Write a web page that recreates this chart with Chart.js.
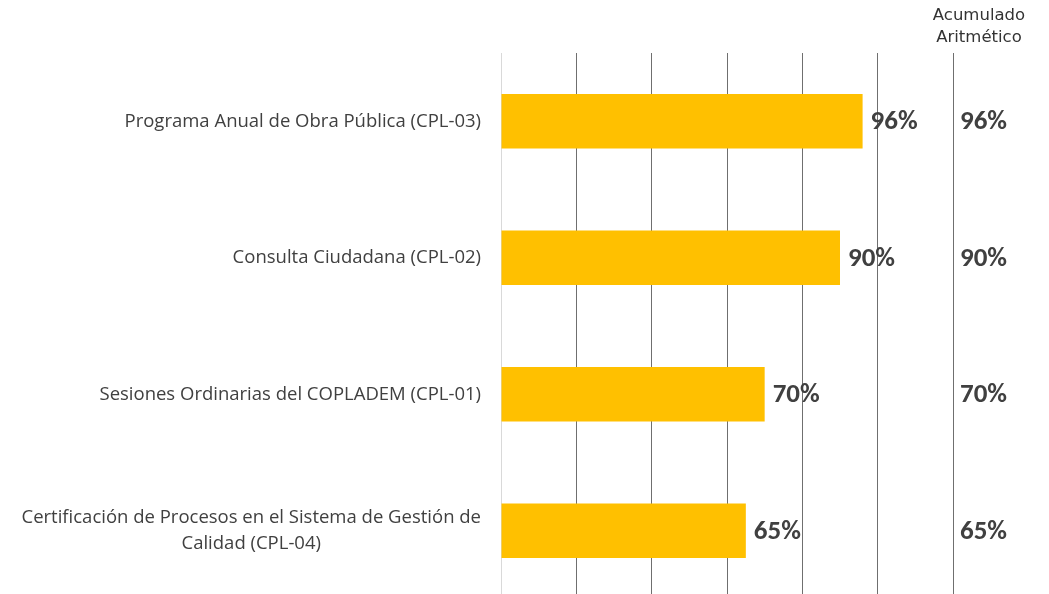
<!DOCTYPE html>
<html>
<head>
<meta charset="utf-8">
<script src="https://cdn.jsdelivr.net/npm/chart.js@4"></script>
<style>
  html, body { margin: 0; padding: 0; background: #fff; overflow: hidden; }
</style>
</head>
<body>
<canvas id="myChart" width="1049" height="600"></canvas>
<script>
const categories = [
  ['Programa Anual de Obra Pública (CPL-03)'],
  ['Consulta Ciudadana (CPL-02)'],
  ['Sesiones Ordinarias del COPLADEM (CPL-01)'],
  ['Certificación de Procesos en el Sistema de Gestión de', 'Calidad (CPL-04)']
];
const avance = [96, 90, 70, 65];
const acumulado = [96, 90, 70, 65];
const headerLines = ['Acumulado', 'Aritmético'];

// category names, value labels and the right-hand column
const labelPlugin = {
  id: 'labels',
  afterDatasetsDraw(chart) {
    const ctx = chart.ctx;
    const area = chart.chartArea;
    const yScale = chart.scales.y;
    const meta = chart.getDatasetMeta(0);
    ctx.save();

    ctx.font = '18.5px "Open Sans"';
    ctx.fillStyle = '#404040';
    ctx.textAlign = 'center';
    ctx.textBaseline = 'middle';
    categories.forEach((lines, i) => {
      const y = yScale.getPixelForValue(i);
      const w = Math.max(...lines.map(l => ctx.measureText(l).width));
      const cx = area.left - 20 - w / 2;
      lines.forEach((l, j) => {
        ctx.fillText(l, cx, y + (j - (lines.length - 1) / 2) * 26);
      });
    });

    ctx.font = 'bold 27px Carlito, "Open Sans"';
    ctx.textAlign = 'left';
    meta.data.forEach((bar, i) => {
      ctx.fillText(avance[i] + '%', bar.x + 8, bar.y + 1);
      ctx.fillText(acumulado[i] + '%', area.right + 7, bar.y + 1);
    });

    ctx.font = '16.5px "DejaVu Sans"';
    ctx.fillStyle = '#333333';
    ctx.textAlign = 'center';
    headerLines.forEach((l, j) => ctx.fillText(l, 979, 16 + j * 22));

    ctx.restore();
  }
};

new Chart(document.getElementById('myChart'), {
  type: 'bar',
  data: {
    labels: categories,
    datasets: [{
      data: avance,
      backgroundColor: '#FFC000',
      borderWidth: 0,
      categoryPercentage: 0.4,
      barPercentage: 1
    }]
  },
  options: {
    indexAxis: 'y',
    responsive: false,
    devicePixelRatio: 1,
    animation: false,
    layout: { padding: { left: 501, right: 96, top: 53, bottom: 1 } },
    plugins: {
      legend: { display: false },
      tooltip: { enabled: false }
    },
    scales: {
      x: {
        min: 0,
        max: 120,
        ticks: { display: false, stepSize: 20 },
        grid: {
          drawTicks: false,
          color: ctx => ctx.tick && ctx.tick.value === 0 ? '#d9d9d9' : '#6f6f6f',
          lineWidth: 1
        },
        border: { display: false }
      },
      y: {
        ticks: { display: false },
        grid: { display: false, drawTicks: false },
        border: { display: false }
      }
    }
  },
  plugins: [labelPlugin]
});
</script>
</body>
</html>
